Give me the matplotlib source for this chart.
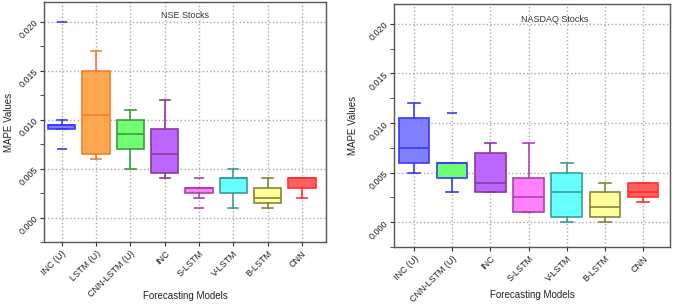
import matplotlib
matplotlib.use("Agg")
import matplotlib.pyplot as plt
from matplotlib.ticker import MultipleLocator

plt.rcParams['font.family'] = ['Liberation Sans', 'DejaVu Sans']

# NSE stocks
nse_models = ['INC (U)', 'LSTM (U)', 'CNN-LSTM (U)', 'INC', 'S-LSTM', 'V-LSTM', 'B-LSTM', 'CNN']
nse_q1 = [0.009, 0.0065, 0.007, 0.0045, 0.0025, 0.0025, 0.0015, 0.003]
nse_med = [0.0095, 0.0105, 0.0085, 0.0065, 0.003, 0.004, 0.002, 0.004]
nse_q3 = [0.0095, 0.015, 0.010, 0.009, 0.003, 0.004, 0.003, 0.004]
nse_lo = [0.009, 0.006, 0.005, 0.004, 0.002, 0.001, 0.001, 0.002]
nse_hi = [0.010, 0.017, 0.011, 0.012, 0.003, 0.005, 0.004, 0.004]
nse_fliers = [[0.007, 0.020], [], [], [], [0.001, 0.004], [], [], []]

# NASDAQ stocks
nas_models = ['INC (U)', 'CNN-LSTM (U)', 'INC', 'S-LSTM', 'V-LSTM', 'B-LSTM', 'CNN']
nas_q1 = [0.006, 0.0045, 0.003, 0.001, 0.0005, 0.0005, 0.0025]
nas_med = [0.0075, 0.006, 0.004, 0.0025, 0.003, 0.0015, 0.003]
nas_q3 = [0.0105, 0.006, 0.007, 0.0045, 0.005, 0.003, 0.004]
nas_lo = [0.005, 0.003, 0.003, 0.001, 0.0, 0.0, 0.002]
nas_hi = [0.012, 0.006, 0.008, 0.008, 0.006, 0.004, 0.004]
nas_fliers = [[], [0.011], [], [], [], [], []]

fill = {'INC (U)': '#8080ff', 'LSTM (U)': '#ffa852', 'CNN-LSTM (U)': '#70ff70', 'INC': '#bb66ff',
        'S-LSTM': '#ff80ff', 'V-LSTM': '#66ffff', 'B-LSTM': '#ffff99', 'CNN': '#ff6060'}
edge = {'INC (U)': '#3a3aff', 'LSTM (U)': '#ff7a2a', 'CNN-LSTM (U)': '#3f9a3f', 'INC': '#8a3a9a',
        'S-LSTM': '#a845a8', 'V-LSTM': '#3f9a9a', 'B-LSTM': '#85853a', 'CNN': '#ff3030'}
nas_edge = dict(edge)
nas_edge['CNN-LSTM (U)'] = '#3a3aff'

FS = 6.5


def draw(ax, models, q1, med, q3, lo, hi, fl, edges, title, tx, ty, ylab_x, xlab_y):
    for i, m in enumerate(models):
        st = [dict(q1=q1[i], med=med[i], q3=q3[i], whislo=lo[i], whishi=hi[i], fliers=fl[i])]
        c = edges[m]
        ax.bxp(st, positions=[i], widths=0.8, capwidths=0.3, patch_artist=True,
               boxprops=dict(facecolor=fill[m], edgecolor=c, linewidth=1.2),
               medianprops=dict(color=c, linewidth=1.2),
               whiskerprops=dict(color=c, linewidth=1.2),
               capprops=dict(color=c, linewidth=1.2),
               flierprops=dict(marker='_', markeredgecolor=c, markersize=7, markeredgewidth=1.2),
               zorder=3)
    ax.set_xticks(range(len(models)))
    ax.set_xticklabels(models, rotation=45, ha='right', rotation_mode='anchor', fontsize=FS)
    ax.set_xlim(-0.52, len(models) - 0.3)
    ax.set_ylim(-0.0025, 0.022)
    ax.yaxis.set_major_locator(MultipleLocator(0.005))
    ax.yaxis.set_minor_locator(MultipleLocator(0.0025))
    ax.set_yticks([0.0, 0.005, 0.010, 0.015, 0.020])
    ax.set_yticklabels(['0.000', '0.005', '0.010', '0.015', '0.020'], rotation=45, fontsize=FS,
                       ha='right', va='center', rotation_mode='anchor')
    ax.grid(True, which='major', linestyle=':', color='#aaaaaa', linewidth=1.0)
    ax.set_axisbelow(True)
    for s in ax.spines.values():
        s.set_color('#555555')
        s.set_linewidth(1.0)
    ax.tick_params(axis='both', which='both', direction='out', color='#333333', length=3,
                   pad=2, top=False, right=False, labelcolor='#222222')
    ax.set_ylabel('MAPE Values', fontsize=FS + 0.5, va='center', color='#222222')
    ax.yaxis.set_label_coords(ylab_x, 0.5)
    ax.set_xlabel('Forecasting Models', fontsize=FS + 0.5, va='center', color='#222222')
    ax.xaxis.set_label_coords(0.5, xlab_y)
    ax.text(tx, ty, title, transform=ax.transAxes, ha='center', va='center', fontsize=FS,
            color='#333333')


fig = plt.figure(figsize=(6.76, 3.04), dpi=100)
ax1 = fig.add_axes([0.065, 0.204, 0.417, 0.789])
ax2 = fig.add_axes([0.583, 0.1875, 0.408, 0.7995])

draw(ax1, nse_models, nse_q1, nse_med, nse_q3, nse_lo, nse_hi, nse_fliers, edge,
     'NSE Stocks', 0.5, 0.946, -0.125, -0.225)
draw(ax2, nas_models, nas_q1, nas_med, nas_q3, nas_lo, nas_hi, nas_fliers, nas_edge,
     'NASDAQ Stocks', 0.583, 0.938, -0.15, -0.198)

fig.savefig('out.png', dpi=100)
